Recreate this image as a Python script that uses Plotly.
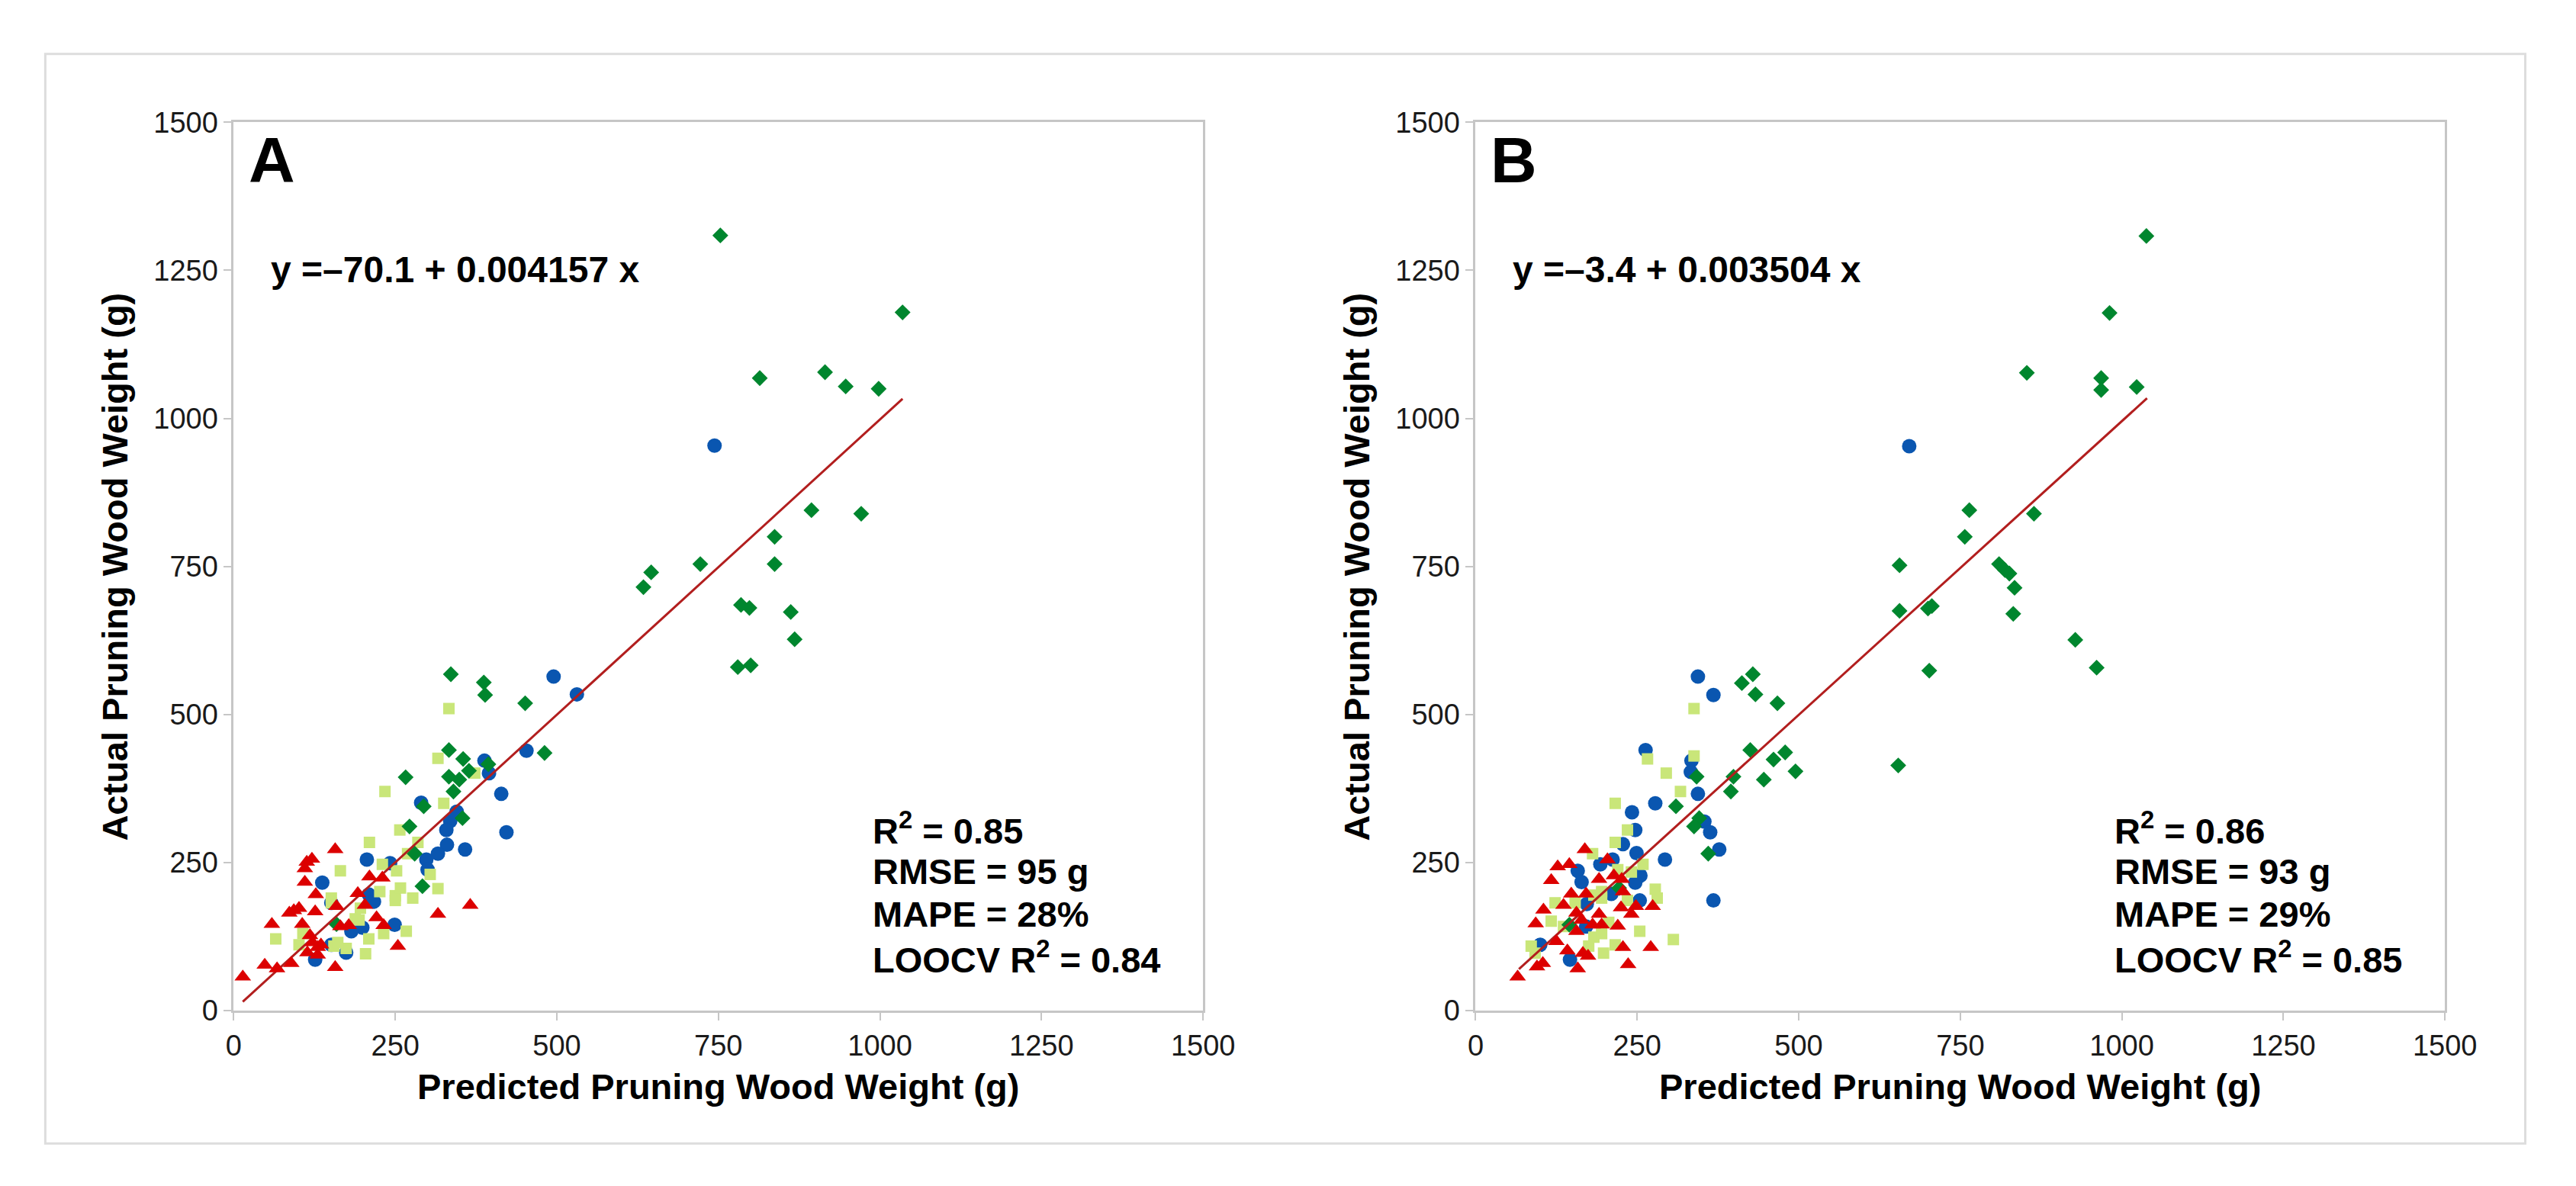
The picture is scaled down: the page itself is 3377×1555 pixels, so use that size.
import plotly.graph_objects as go

W, H = 3377, 1555

# ---------------- data ----------------
# Panel A
a_tri_x = [14, 48, 67, 89, 59, 157, 157, 121, 113, 110, 110, 127, 86, 101, 126, 106, 93, 118, 122, 130,
           114, 130, 135, 159, 165, 178, 192, 203, 210, 230, 221, 232, 254, 316, 366]
a_tri_y = [57, 77, 71, 80, 146, 73, 272, 256, 251, 240, 217, 196, 165, 173, 167, 146, 169, 127, 115, 107,
           98, 94, 111, 176, 142, 144, 198, 178, 226, 224, 157, 144, 109, 163, 178]
a_circ_x = [495, 531, 453, 388, 395, 414, 422, 290, 345, 335, 329, 330, 316, 298, 358, 300, 206, 242, 137,
            209, 217, 249, 199, 182, 151, 174, 126, 151, 744]
a_circ_y = [564, 534, 439, 422, 401, 366, 301, 351, 336, 320, 305, 280, 265, 255, 272, 238, 255, 249, 216,
            196, 184, 145, 140, 134, 111, 98, 86, 182, 954]
a_dia_x = [336, 387, 389, 451, 481, 333, 355, 364, 333, 349, 340, 394, 266, 294, 354, 272, 280, 292, 159,
           753, 1035, 814, 915, 947, 998, 894, 971, 837, 837, 722, 646, 634, 785, 798, 862, 868, 780, 800]
a_dia_y = [568, 554, 533, 519, 435, 440, 425, 405, 395, 390, 370, 416, 394, 345, 325, 311, 265, 210, 146,
           1309, 1179, 1068, 1078, 1054, 1050, 845, 839, 800, 754, 754, 740, 715, 685, 680, 673, 627, 580, 583]
a_sq_x = [333, 316, 373, 234, 325, 257, 210, 285, 269, 230, 252, 165, 304, 316, 226, 250, 258, 277, 250,
          151, 194, 188, 267, 232, 209, 204, 65, 101, 155, 174, 161, 107, 151, 196]
a_sq_y = [510, 426, 401, 370, 350, 305, 284, 284, 265, 247, 236, 236, 230, 206, 201, 194, 207, 190, 186,
          182, 153, 155, 134, 130, 121, 96, 121, 111, 109, 105, 115, 130, 190, 173]
a_line_x = [14, 1035]
a_line_y = [15, 1033]

# Panel B
b_tri_x = [65, 95, 104, 158, 236, 125, 142, 166, 174, 228, 271, 93, 105, 136, 117, 127, 145, 169, 148, 171,
           156, 156, 164, 181, 191, 195, 191, 204, 214, 226, 228, 220, 225, 241, 248, 274]
b_tri_y = [57, 74, 80, 71, 78, 117, 101, 97, 92, 107, 107, 147, 170, 178, 220, 243, 247, 272, 197, 197,
           134, 165, 153, 145, 163, 145, 222, 255, 228, 222, 201, 143, 174, 163, 176, 176]
b_circ_x = [344, 368, 263, 334, 333, 344, 278, 242, 247, 228, 249, 293, 354, 363, 377, 368, 212, 193, 158,
            164, 255, 247, 210, 254, 172, 100, 146, 171, 671]
b_circ_y = [564, 533, 440, 422, 403, 366, 350, 335, 305, 281, 266, 255, 319, 301, 272, 186, 255, 247, 236,
            217, 228, 216, 197, 186, 180, 111, 86, 142, 953]
b_dia_x = [429, 412, 433, 467, 425, 479, 461, 495, 446, 399, 395, 342, 310, 346, 338, 360, 145, 222,
           1038, 981, 853, 968, 968, 1023, 764, 864, 757, 656, 810, 819, 826, 834, 832, 706, 700, 656, 702,
           928, 961, 654]
b_dia_y = [568, 553, 534, 519, 440, 436, 424, 404, 390, 395, 370, 395, 345, 325, 311, 265, 145, 207,
           1308, 1178, 1077, 1068, 1048, 1053, 845, 839, 800, 752, 754, 744, 738, 714, 670, 683, 679, 675, 574,
           626, 579, 414]
b_sq_x = [338, 338, 266, 295, 317, 216, 235, 216, 181, 259, 241, 220, 278, 281, 195, 195, 123, 154, 235,
          117, 136, 206, 254, 306, 183, 195, 216, 198, 86, 92, 175, 183]
b_sq_y = [510, 430, 425, 401, 370, 350, 305, 284, 265, 247, 234, 238, 205, 190, 201, 190, 182, 182, 186,
          151, 142, 149, 134, 120, 124, 130, 111, 97, 109, 97, 109, 195]
b_line_x = [67, 1039]
b_line_y = [70, 1034]

tick_vals = [0, 250, 500, 750, 1000, 1250, 1500]
tick_text = ["0", "250", "500", "750", "1000", "1250", "1500"]

panel_labels = ["A", "B"]
equations = ["y =\u201370.1 + 0.004157 x", "y =\u20133.4 + 0.003504 x"]
stats = [["R<sup>2</sup> = 0.85", "RMSE = 95 g", "MAPE = 28%", "LOOCV R<sup>2</sup> = 0.84"],
         ["R<sup>2</sup> = 0.86", "RMSE = 93 g", "MAPE = 29%", "LOOCV R<sup>2</sup> = 0.85"]]
x_title = "Predicted Pruning Wood Weight (g)"
y_title = "Actual Pruning Wood Weight (g)"

# ---------------- styling ----------------
C_BLUE = "#0A56B0"
C_RED = "#DC0000"
C_DGREEN = "#00862E"
C_LGREEN = "#C9E679"
C_LINE = "#B21E1E"
AXIS_C = "#C6C6C6"
FONT = "Liberation Sans"

def px(x):
    return x / W

def py(y):
    return 1 - y / H

# panel pixel boxes
panels = [dict(x0=292, x1=1583), dict(x0=1946, x1=3237)]
TOP, BOT = 135, 1332

fig = go.Figure()

datasets = [
    (a_circ_x, a_circ_y, a_sq_x, a_sq_y, a_dia_x, a_dia_y, a_tri_x, a_tri_y, a_line_x, a_line_y),
    (b_circ_x, b_circ_y, b_sq_x, b_sq_y, b_dia_x, b_dia_y, b_tri_x, b_tri_y, b_line_x, b_line_y),
]

for i, d in enumerate(datasets):
    xa = "x" if i == 0 else "x2"
    ya = "y" if i == 0 else "y2"
    cx, cy, sx, sy, dx, dy, tx, ty, lx, ly = d
    fig.add_trace(go.Scatter(x=cx, y=cy, mode="markers", xaxis=xa, yaxis=ya,
                             marker=dict(symbol="circle", size=19, color=C_BLUE, line=dict(width=0))))
    fig.add_trace(go.Scatter(x=sx, y=sy, mode="markers", xaxis=xa, yaxis=ya,
                             marker=dict(symbol="square", size=15, color=C_LGREEN, line=dict(width=0))))
    fig.add_trace(go.Scatter(x=dx, y=dy, mode="markers", xaxis=xa, yaxis=ya,
                             marker=dict(symbol="diamond", size=16, color=C_DGREEN, line=dict(width=0))))
    fig.add_trace(go.Scatter(x=lx, y=ly, mode="lines", xaxis=xa, yaxis=ya,
                             line=dict(color=C_LINE, width=3)))
    fig.add_trace(go.Scatter(x=tx, y=ty, mode="markers", xaxis=xa, yaxis=ya,
                             marker=dict(symbol="triangle-up", size=19, color=C_RED, line=dict(width=0))))

axis_common = dict(range=[0, 1500], tickvals=tick_vals, ticktext=tick_text, showgrid=False, zeroline=False,
                   showline=True, mirror=True, linecolor=AXIS_C, linewidth=3, ticks="outside", ticklen=10,
                   tickwidth=2, tickcolor=AXIS_C, tickfont=dict(family=FONT, size=38, color="#1a1a1a"),
                   fixedrange=True)

layout = dict(width=W, height=H, margin=dict(l=0, r=0, t=0, b=0), paper_bgcolor="white",
              plot_bgcolor="white", showlegend=False)
for i, p in enumerate(panels):
    sfx = "" if i == 0 else "2"
    layout["xaxis" + sfx] = dict(axis_common, domain=[px(p["x0"]), px(p["x1"])],
                                 anchor="y" + sfx)
    layout["yaxis" + sfx] = dict(axis_common, domain=[py(BOT), py(TOP)], anchor="x" + sfx)
fig.update_layout(**layout)

annotations = []
for i, p in enumerate(panels):
    x0 = p["x0"]
    # panel letter
    annotations.append(dict(text="<b>%s</b>" % panel_labels[i], x=px(x0 + 18), y=py(186), xref="paper",
                            yref="paper", xanchor="left", yanchor="middle", showarrow=False,
                            font=dict(family=FONT, size=84, color="black")))
    # equation
    annotations.append(dict(text="<b>%s</b>" % equations[i], x=px(x0 + 47), y=py(333), xref="paper",
                            yref="paper", xanchor="left", yanchor="middle", showarrow=False,
                            font=dict(family=FONT, size=48, color="black")))
    # stats
    for k, line in enumerate(stats[i]):
        base = 1103 + k * 58
        annotations.append(dict(text="<b>%s</b>" % line, x=px(x0 + 849), y=py(base - 17), xref="paper",
                                yref="paper", xanchor="left", yanchor="middle", showarrow=False,
                                font=dict(family=FONT, size=47, color="black")))
    # axis titles
    annotations.append(dict(text="<b>%s</b>" % x_title, x=px((p["x0"] + p["x1"]) / 2), y=py(1434),
                            xref="paper", yref="paper", xanchor="center", yanchor="middle", showarrow=False,
                            font=dict(family=FONT, size=47, color="black")))
    annotations.append(dict(text="<b>%s</b>" % y_title, x=px(x0 - 158), y=py((TOP + BOT) / 2),
                            xref="paper", yref="paper", xanchor="center", yanchor="middle", showarrow=False,
                            textangle=-90, font=dict(family=FONT, size=47, color="black")))

fig.update_layout(annotations=annotations)

# outer frame
fig.add_shape(type="rect", xref="paper", yref="paper", x0=px(41), x1=px(3344), y0=py(1511), y1=py(43),
              line=dict(color="#DDDDDD", width=3), fillcolor="rgba(0,0,0,0)", layer="below")

fig.write_html("out.html")
